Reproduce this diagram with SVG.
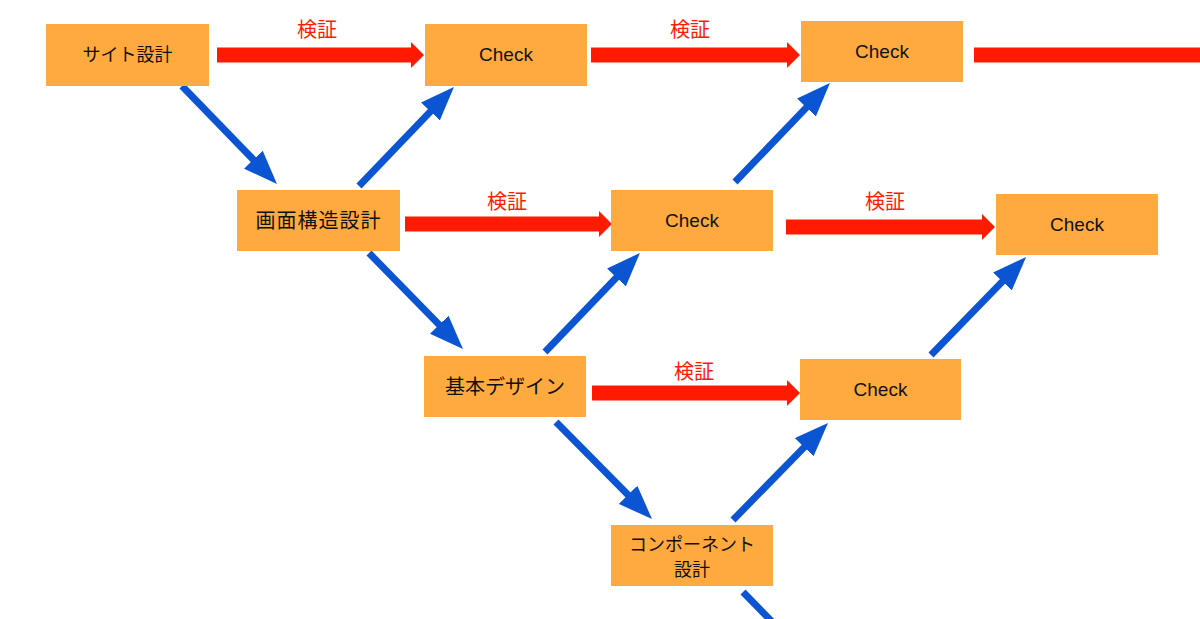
<svg xmlns="http://www.w3.org/2000/svg" width="1200" height="619" viewBox="0 0 1200 619">
<defs>
<style>
.box{fill:#FFAA3E;}
.lbl{font-family:"Liberation Sans","Noto Sans CJK JP",sans-serif;font-size:18px;fill:#111;text-anchor:middle;}
.chk{font-size:19px;}
.big{font-size:20px;}
.ver{font-family:"Noto Sans CJK JP","Liberation Sans",sans-serif;font-size:20px;fill:#FF1A00;text-anchor:middle;}
.blue{stroke:#0B55D3;stroke-width:7;fill:none;}
.red{stroke:#FF1A00;stroke-width:15;fill:none;}
</style>
<marker id="bh" markerUnits="userSpaceOnUse" viewBox="0 0 34 26" markerWidth="34" markerHeight="26" refX="4" refY="13" orient="auto">
<path d="M0,0 L34,13 L0,26 z" fill="#0B55D3"/>
</marker>
<marker id="rh" markerUnits="userSpaceOnUse" viewBox="0 0 13 26" markerWidth="13" markerHeight="26" refX="1" refY="13" orient="auto">
<path d="M0,0 L13,13 L0,26 z" fill="#FF1A00"/>
</marker>
</defs>
<rect width="1200" height="619" fill="#FFFFFF"/>
<g id="connectors">
<line class="red" x1="217" y1="55" x2="412" y2="55" marker-end="url(#rh)"/>
<line class="red" x1="591" y1="55" x2="788" y2="55" marker-end="url(#rh)"/>
<line class="red" x1="974" y1="55" x2="1200" y2="55"/>
<line class="red" x1="405" y1="224" x2="600" y2="224" marker-end="url(#rh)"/>
<line class="red" x1="786" y1="227" x2="983" y2="227" marker-end="url(#rh)"/>
<line class="red" x1="592" y1="393" x2="788" y2="393" marker-end="url(#rh)"/>
<line class="blue" x1="182" y1="86" x2="256.1" y2="162.5" marker-end="url(#bh)"/>
<line class="blue" x1="359" y1="186" x2="433.2" y2="108.6" marker-end="url(#bh)"/>
<line class="blue" x1="369" y1="253" x2="442" y2="327.6" marker-end="url(#bh)"/>
<line class="blue" x1="545" y1="352" x2="619.2" y2="274.6" marker-end="url(#bh)"/>
<line class="blue" x1="735" y1="182" x2="809.2" y2="104.6" marker-end="url(#bh)"/>
<line class="blue" x1="556" y1="422" x2="630.9" y2="497.7" marker-end="url(#bh)"/>
<line class="blue" x1="733" y1="520" x2="807" y2="444.4" marker-end="url(#bh)"/>
<line class="blue" x1="931" y1="355" x2="1005.2" y2="278.6" marker-end="url(#bh)"/>
<line class="blue" x1="743" y1="592" x2="782" y2="632"/>
<text class="ver" x="317" y="37">検証</text>
<text class="ver" x="690" y="37">検証</text>
<text class="ver" x="507" y="209">検証</text>
<text class="ver" x="885" y="209">検証</text>
<text class="ver" x="694" y="379">検証</text>
</g>
<g id="site">
<rect class="box" x="46" y="24" width="163" height="62"/>
<text class="lbl" x="127.5" y="61">サイト設計</text>
</g>
<g id="check1">
<rect class="box" x="425" y="24" width="162" height="62"/>
<text class="lbl chk" x="506" y="61">Check</text>
</g>
<g id="check2">
<rect class="box" x="801" y="21" width="162" height="61"/>
<text class="lbl chk" x="882" y="58">Check</text>
</g>
<g id="screen">
<rect class="box" x="237" y="190" width="163" height="61"/>
<text class="lbl big" x="318.5" y="228" letter-spacing="1">画面構造設計</text>
</g>
<g id="check3">
<rect class="box" x="611" y="190" width="162" height="61"/>
<text class="lbl chk" x="692" y="227">Check</text>
</g>
<g id="check4">
<rect class="box" x="996" y="194" width="162" height="61"/>
<text class="lbl chk" x="1077" y="231">Check</text>
</g>
<g id="basic">
<rect class="box" x="424" y="356" width="162" height="61"/>
<text class="lbl big" x="505" y="394">基本デザイン</text>
</g>
<g id="check5">
<rect class="box" x="800" y="359" width="161" height="61"/>
<text class="lbl chk" x="880.5" y="396">Check</text>
</g>
<g id="component">
<rect class="box" x="611" y="525" width="162" height="61"/>
<text class="lbl" x="692" y="551">コンポーネント</text>
<text class="lbl" x="692" y="576">設計</text>
</g>
</svg>
